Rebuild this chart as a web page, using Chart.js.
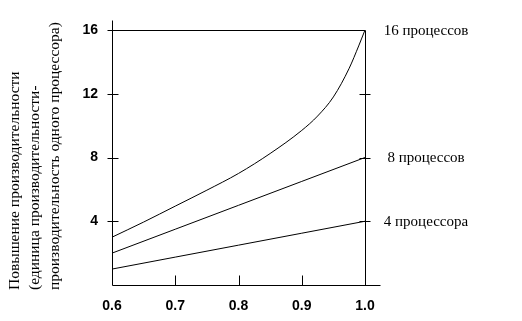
<!DOCTYPE html>
<html>
<head>
<meta charset="utf-8">
<script src="https://cdn.jsdelivr.net/npm/chart.js@4.4.0/dist/chart.umd.min.js"></script>
<style>
    html, body { margin: 0; padding: 0; background: #fff; }
    #wrap { width: 522px; height: 321px; }
</style>
</head>
<body>
<div id="wrap"><canvas id="speedup-chart"></canvas></div>
<script>
// fraction of parallel code (x) and speedup for each processor count (y)
var fractionLinear = [0.6, 0.7, 0.8, 0.9, 1.0];
var speedup4 = [1, 1.75, 2.5, 3.25, 4];
var speedup8 = [2, 3.5, 5, 6.5, 8];

var fraction16 = [0.6, 0.65, 0.7, 0.75, 0.8, 0.85, 0.9, 0.925, 0.95, 0.975, 0.99, 1.0];
var speedup16 = [3.0, 3.95, 4.95, 5.95, 7.0, 8.25, 9.7, 10.6, 11.8, 13.6, 15.0, 16];

var seriesNames = ['4 процессора', '8 процессов', '16 процессов'];
var yTicks = [4, 8, 12, 16];
var xTicks = [0.6, 0.7, 0.8, 0.9, 1.0];
var yTitle = [
    'Повышение производительности',
    '(единица производительности-',
    'производительность одного процессора)'
];

function toPoints(xs, ys) {
    var pts = [];
    for (let i = 0; i < xs.length; i++) {
        pts.push({x: xs[i], y: ys[i]});
    }
    return pts;
}

function crisp(v) {
    return Math.round(v) + 0.5;
}

// axis frame, tick marks, rotated title and series notes
var framePlugin = {
    id: 'framePlugin',
    afterDraw: function(chart) {
        var ctx = chart.ctx;
        var xs = chart.scales.x;
        var ys = chart.scales.y;
        var area = chart.chartArea;
        var l = crisp(area.left), r = crisp(area.right), t = crisp(area.top), b = crisp(area.bottom);

        ctx.save();
        ctx.strokeStyle = '#000';
        ctx.lineWidth = 1;
        ctx.beginPath();
        // left axis, a bit past the top
        ctx.moveTo(l, t - 10); ctx.lineTo(l, b);
        // bottom axis, runs past the right border
        ctx.moveTo(l, b); ctx.lineTo(r + 15, b);
        // top and right border
        ctx.moveTo(l, t); ctx.lineTo(r, t);
        ctx.moveTo(r, t); ctx.lineTo(r, b);

        for (let i = 0; i < yTicks.length; i++) {
            var py = crisp(ys.getPixelForValue(yTicks[i]));
            ctx.moveTo(l - 5, py); ctx.lineTo(l + 6, py);
            if (yTicks[i] < 16) {
                ctx.moveTo(r - 6, py); ctx.lineTo(r + 5, py);
            }
        }
        for (let i = 1; i < xTicks.length - 1; i++) {
            var px = crisp(xs.getPixelForValue(xTicks[i]));
            ctx.moveTo(px, b - 10); ctx.lineTo(px, b);
        }
        ctx.stroke();

        // rotated y title
        ctx.fillStyle = '#000';
        ctx.font = '15.5px "Liberation Serif"';
        ctx.textAlign = 'left';
        ctx.textBaseline = 'middle';
        var titleX = [15, 35, 55];
        for (let i = 0; i < yTitle.length; i++) {
            ctx.save();
            ctx.translate(titleX[i], area.bottom + 5);
            ctx.rotate(-Math.PI / 2);
            ctx.fillText(yTitle[i], 0, 0);
            ctx.restore();
        }

        // series names at the right end of each line
        ctx.font = '15px "Liberation Serif"';
        ctx.textAlign = 'center';
        var ends = [speedup4[speedup4.length - 1], speedup8[speedup8.length - 1], speedup16[speedup16.length - 1]];
        for (let i = 0; i < seriesNames.length; i++) {
            ctx.fillText(seriesNames[i], area.right + 61, ys.getPixelForValue(ends[i]) + 1);
        }
        ctx.restore();
    }
};

function renderSpeedupChart() {
    var ctx = document.getElementById('speedup-chart').getContext('2d');
    var lineStyle = {
        borderColor: '#000',
        borderWidth: 1,
        pointRadius: 0,
        fill: false
    };
    new Chart(ctx, {
        type: 'line',
        data: {
            datasets: [
                Object.assign({label: seriesNames[0], data: toPoints(fractionLinear, speedup4), tension: 0}, lineStyle),
                Object.assign({label: seriesNames[1], data: toPoints(fractionLinear, speedup8), tension: 0}, lineStyle),
                Object.assign({label: seriesNames[2], data: toPoints(fraction16, speedup16), cubicInterpolationMode: 'monotone'}, lineStyle)
            ]
        },
        options: {
            responsive: true,
            maintainAspectRatio: false,
            animation: false,
            layout: {
                padding: {left: 0, top: 30, right: 157, bottom: 0}
            },
            plugins: {
                legend: {display: false},
                tooltip: {enabled: false}
            },
            scales: {
                x: {
                    type: 'linear',
                    min: 0.6,
                    max: 1.0,
                    afterFit: function(scale) { scale.height = 36; },
                    grid: {display: false, drawTicks: false},
                    border: {display: false},
                    ticks: {
                        stepSize: 0.1,
                        padding: 13,
                        color: '#000',
                        font: {family: 'Liberation Sans', size: 14, weight: 'bold'},
                        maxRotation: 0,
                        callback: function(value) { return value.toFixed(1); }
                    }
                },
                y: {
                    type: 'linear',
                    min: 0,
                    max: 16,
                    afterFit: function(scale) { scale.width = 112; },
                    grid: {display: false, drawTicks: false},
                    border: {display: false},
                    ticks: {
                        stepSize: 4,
                        padding: 14,
                        color: '#000',
                        font: {family: 'Liberation Sans', size: 14, weight: 'bold'},
                        callback: function(value) { return value === 0 ? '' : value; }
                    }
                }
            }
        },
        plugins: [framePlugin]
    });
}

document.addEventListener('DOMContentLoaded', function(event) {
    renderSpeedupChart();
});
</script>
</body>
</html>
